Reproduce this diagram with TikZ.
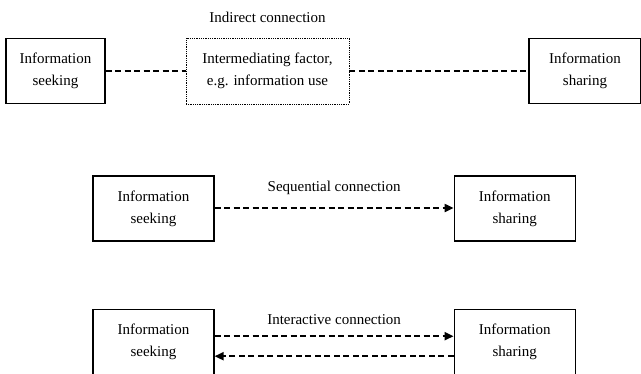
\documentclass[tikz,border=0pt]{standalone}
\usepackage{fontspec}
\setmainfont{Liberation Serif}
\usetikzlibrary{positioning,arrows.meta}

\begin{document}
\begin{tikzpicture}[x=1pt, y=-1pt, align=center, font=\fontsize{15}{22}\selectfont,
        box/.style={draw, line width=1.2pt, minimum height=65pt, inner sep=2pt},
        dashlink/.style={line width=2pt, dash pattern=on 6pt off 3.5pt},
        flow/.style={-{Triangle[length=9pt,width=8pt]}}]
        \useasboundingbox (0,0) rectangle (641,373);

        % Indirect connection
        \node [draw, densely dotted, line width=0.8pt, minimum height=66pt, minimum width=163pt] (factor) at (267.5,71) {Intermediating factor,\\e.g. information use};
        \node [above=11.5pt of factor] (indirect) {Indirect connection};
        \node [box, left=80pt of factor, minimum width=99pt] (seekA) {Information\\seeking};
        \node [box, right=179pt of factor, minimum width=112pt] (shareA) {Information\\sharing};

        \draw[dashlink] (seekA) -- (factor);
        \draw[dashlink] (factor) -- (shareA);

        % Sequential connection
        \node [box, minimum width=121pt] (seekB) at (153.5,208.5) {Information\\seeking};
        \node [box, right=239pt of seekB, minimum width=121pt] (shareB) {Information\\sharing};

        \draw[dashlink, flow] ([yshift=0.5pt]seekB.east) -- node[above=9pt] {Sequential connection} ([yshift=0.5pt]shareB.west);

        % Interactive connection
        \node [box, below=67pt of seekB, minimum width=121pt] (seekC) {Information\\seeking};
        \node [box, right=239pt of seekC, minimum width=121pt] (shareC) {Information\\sharing};

        \draw[dashlink, flow] ([yshift=5.5pt]seekC.east) -- node[above=7.5pt] {Interactive connection} ([yshift=5.5pt]shareC.west);
        \draw[dashlink, flow] ([yshift=-14.5pt]shareC.west) -- ([yshift=-14.5pt]seekC.east);

    \end{tikzpicture}
\end{document}
